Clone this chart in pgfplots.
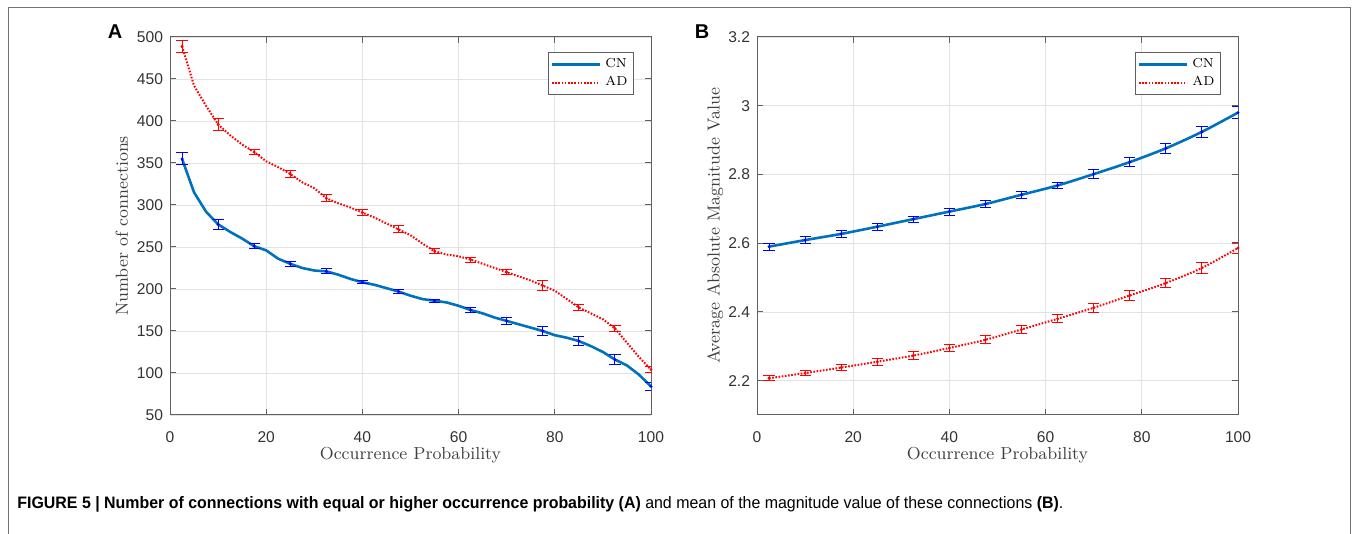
\documentclass[border=0pt]{standalone}
\usepackage{fontspec}
\usepackage{graphicx}
\usepackage{pgfplots}
\usepackage{pgfplotstable}
\pgfplotsset{compat=1.18}
\newfontfamily\arialf{Liberation Sans}
\definecolor{cnline}{rgb}{0,0.447,0.741}
\definecolor{framegray}{gray}{0.45}

\pgfplotstableread{
x y
2.5 355
5 315
7.5 292
10 277
12.5 268
15 260
17.5 251
20 246
22.5 236
25 230
27.5 225
30 222
32.5 221
35 217
37.5 212
40 208
42.5 205
45 201
47.5 197
50 192
52.5 188
55 186
57.5 184
60 180
62.5 175
65 171
67.5 166
70 162
72.5 158
75 154
77.5 150
80 145
82.5 142
85 138
87.5 132
90 125
92.5 116
95 109
97.5 98
100 84
}\cnA

\pgfplotstableread{
x y
2.5 489
5 442
7.5 418
10 396
12.5 383
15 372
17.5 363
20 352
22.5 345
25 337
27.5 327
30 320
32.5 308
35 302
37.5 297
40 291
42.5 285
45 278
47.5 271
50 264
52.5 254
55 245
57.5 241
60 239
62.5 235
65 230
67.5 225
70 220
72.5 215
75 210
77.5 204
80 198
82.5 188
85 178
87.5 171
90 164
92.5 153
95 136
97.5 119
100 104
}\adA

\pgfplotstableread{
x y e
2.5 355 7
10 277 6
17.5 251 3
25 230 3
32.5 221 3
40 208 2
47.5 197 2
55 186 2
62.5 175 3
70 162 4
77.5 150 5
85 138 5
92.5 116 6
100 84 5
}\cnAerr

\pgfplotstableread{
x y e
2.5 489 7
10 396 7
17.5 363 3
25 337 4
32.5 308 4
40 291 4
47.5 271 4
55 245 3
62.5 235 3
70 220 3
77.5 204 6
85 178 4
92.5 153 4
100 104 4
}\adAerr

\pgfplotstableread{
x y e
2.5 2.590 0.010
10 2.609 0.010
17.5 2.627 0.010
25 2.648 0.010
32.5 2.670 0.009
40 2.692 0.010
47.5 2.714 0.010
55 2.741 0.010
62.5 2.768 0.010
70 2.801 0.012
77.5 2.836 0.014
85 2.876 0.015
92.5 2.924 0.016
100 2.980 0.018
}\cnB

\pgfplotstableread{
x y e
2.5 2.207 0.008
10 2.222 0.008
17.5 2.238 0.009
25 2.255 0.010
32.5 2.273 0.011
40 2.295 0.011
47.5 2.319 0.011
55 2.349 0.012
62.5 2.380 0.012
70 2.412 0.013
77.5 2.448 0.014
85 2.484 0.014
92.5 2.528 0.015
100 2.586 0.016
}\adB

\pgfplotsset{
  mystyle/.style={
    scale only axis,
    width=240.5pt, height=189pt,
    anchor=south west,
    xmin=0, xmax=100,
    xtick={0,20,...,100},
    tick pos=both,
    tick align=inside,
    major tick length=3pt,
    grid=major,
    grid style={gray!22, line width=0.4pt},
    axis line style={gray!75!black, line width=0.5pt},
    tick style={gray!75!black, line width=0.5pt},
    ticklabel style={font=\arialf\fontsize{7.8}{9}\selectfont, text=black!80},
    xticklabel style={yshift=-5pt},
    /pgf/number format/assume math mode=true,
    label style={font=\fontsize{8.7}{10}\selectfont, text=black!75},
    xlabel style={at={(axis description cs:0.5,-0.106)}, anchor=center},
    legend style={at={(1,1)}, anchor=north east, xshift=-8.5pt, yshift=-7.5pt,
      font=\fontsize{6.5}{7}\selectfont, draw=gray!75!black, line width=0.5pt,
      inner sep=1pt, row sep=-1pt, cells={anchor=west}},
    legend image code/.code={\draw[##1] (0pt,0pt) -- (24pt,0pt);},
  },
  cnstyle/.style={cnline, line width=1.3pt, no marks},
  adstyle/.style={red, line width=1pt, no marks, dash pattern=on 0.8pt off 0.8pt},
  errblue/.style={only marks, mark=*, mark size=0.5pt, blue, forget plot,
    error bars/.cd, y dir=both, y explicit,
    error bar style={blue, line width=0.5pt},
    error mark options={blue, rotate=90, mark size=2.8pt, line width=0.5pt}},
  errred/.style={only marks, mark=*, mark size=0.5pt, red, forget plot,
    error bars/.cd, y dir=both, y explicit,
    error bar style={red, line width=0.5pt},
    error mark options={red, rotate=90, mark size=2.8pt, line width=0.5pt}},
}

\begin{document}
\begin{tikzpicture}
\path[use as bounding box] (0,0) rectangle (679pt,267pt);

% frame
\draw[framegray, line width=0.5pt] (4pt,0pt) -- (4pt,263pt) -- (675pt,263pt) -- (675pt,0pt);

\begin{axis}[mystyle, at={(85pt,59.5pt)},
  ymin=50, ymax=500, ytick={50,100,...,500},
  ylabel style={at={(axis description cs:-0.1,0.5)}, anchor=center, rotate=0},
  xlabel={Occurrence Probability}, ylabel={Number of connections}]
\addplot[cnstyle] table[x=x,y=y] {\cnA};
\addlegendentry{CN}
\addplot[adstyle] table[x=x,y=y] {\adA};
\addlegendentry{AD}
\addplot[errblue] table[x=x,y=y,y error=e] {\cnAerr};
\addplot[errred] table[x=x,y=y,y error=e] {\adAerr};
\end{axis}

\begin{axis}[mystyle, at={(378.5pt,59.5pt)},
  ymin=2.1, ymax=3.2, ytick={2.2,2.4,...,3.2},
  yticklabels={2.2,2.4,2.6,2.8,3,3.2},
  ylabel style={at={(axis description cs:-0.087,0.5)}, anchor=center, rotate=0},
  xlabel={Occurrence Probability}, ylabel={Average Absolute Magnitude Value}]
\addplot[cnstyle, smooth] table[x=x,y=y] {\cnB};
\addlegendentry{CN}
\addplot[adstyle, smooth] table[x=x,y=y] {\adB};
\addlegendentry{AD}
\addplot[errblue] table[x=x,y=y,y error=e] {\cnB};
\addplot[errred] table[x=x,y=y,y error=e] {\adB};
\end{axis}

% panel letters
\node[font=\arialf\bfseries\fontsize{10}{12}\selectfont, anchor=center] at (57.5pt,251pt) {A};
\node[font=\arialf\bfseries\fontsize{10}{12}\selectfont, anchor=center] at (351pt,251pt) {B};

% caption
\node[anchor=west, inner sep=0pt, font=\arialf\fontsize{8.3}{10}\selectfont] at (8.5pt,15pt)
  {\resizebox{523pt}{\height}{\textbf{FIGURE 5 | Number of connections with equal or higher occurrence probability (A)} and mean of the magnitude value of these connections \textbf{(B)}.}};
\end{tikzpicture}
\end{document}
